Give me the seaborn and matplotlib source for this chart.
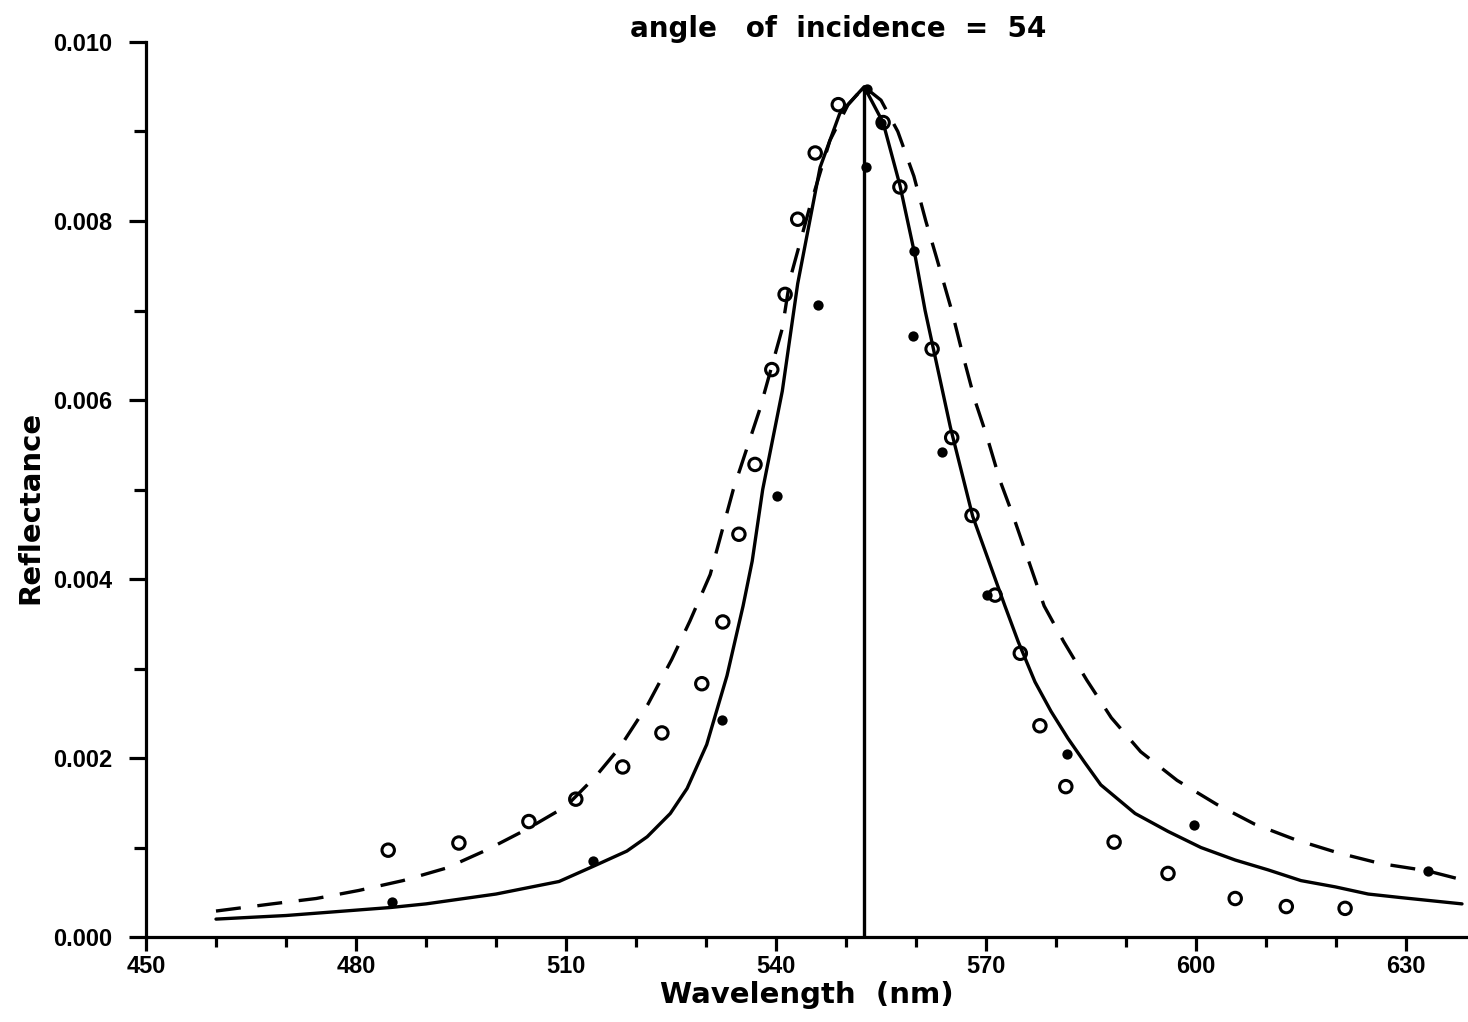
import matplotlib
matplotlib.use("Agg")
import matplotlib.pyplot as plt
import seaborn as sns
from matplotlib.ticker import MultipleLocator, FixedLocator, FixedFormatter

# ---------------- data ----------------
solid_wl = [460, 470, 480, 485, 490, 500, 509, 513.9, 518.7, 521.6, 524.9, 527.3,
            530.1, 533.0, 535.3, 536.6, 538.1, 540.9, 543.1, 546.3, 549.1, 552.6,
            555.3, 557.7, 559.9, 561.3, 564.9, 568.1, 572.7, 574.6, 577.0,
            579.3, 581.7, 584.1, 586.4, 591.3, 596.0, 600.7, 605.6, 610.3, 615.0,
            619.9, 624.6, 629.3, 638.0]
solid_r = [0.00020, 0.00024, 0.00030, 0.00033, 0.00037, 0.00048, 0.00062, 0.00079,
           0.00096, 0.00112, 0.00138, 0.00166, 0.00215, 0.00292, 0.00370, 0.00420,
           0.00500, 0.00610, 0.00730, 0.00860, 0.00920, 0.00950, 0.00910, 0.00840,
           0.00760, 0.00700, 0.00570, 0.00470, 0.00370, 0.00330, 0.00285,
           0.00252, 0.00222, 0.00195, 0.00170, 0.00138, 0.00118, 0.00100, 0.00086,
           0.00075, 0.00063, 0.00056, 0.00048, 0.00044, 0.00037]

dashed_wl = [460, 468, 474.3, 480.4, 486.7, 492.9, 498.6, 504.3, 510, 514.3, 517.7,
             521.7, 525.1, 527.7, 530.6, 533.9, 537.7, 540.9, 542.0, 544.8, 547.7,
             550.3, 552.6, 555.0, 557.4, 559.7, 561.4, 562.9, 565.1, 566.7, 568.4,
             570.1, 572.0, 573.9, 576.1, 578.3, 581.1, 584.4, 587.9, 592.1, 597.3,
             603.0, 608.4, 614.1, 620.3, 626.4, 633.0, 638.0]
dashed_r = [0.00029, 0.00037, 0.00043, 0.00052, 0.00063, 0.00077, 0.00097, 0.00120,
            0.00146, 0.00180, 0.00212, 0.00260, 0.00310, 0.00353, 0.00405, 0.00500,
            0.00590, 0.00680, 0.00735, 0.00815, 0.00890, 0.00930, 0.00950, 0.00935,
            0.00900, 0.00850, 0.00800, 0.00760, 0.00700, 0.00650, 0.00600, 0.00560,
            0.00510, 0.00470, 0.00420, 0.00370, 0.00330, 0.00287, 0.00245, 0.00207,
            0.00175, 0.00148, 0.00126, 0.00109, 0.00094, 0.00082, 0.00074, 0.00064]

open_wl = [484.6, 494.7, 504.7, 511.4, 518.1, 523.7, 529.4, 532.4, 534.7, 537.0,
           539.4, 541.3, 543.1, 545.6, 548.9, 555.3, 557.7, 562.3, 565.1, 568.0,
           571.3, 574.9, 577.7, 581.4, 588.3, 596.0, 605.6, 612.9, 621.3]
open_r = [0.00097, 0.00105, 0.00129, 0.00154, 0.00190, 0.00228, 0.00283, 0.00352,
          0.00450, 0.00528, 0.00634, 0.00718, 0.00802, 0.00876, 0.00930, 0.00910,
          0.00838, 0.00657, 0.00558, 0.00471, 0.00382, 0.00317, 0.00236, 0.00168,
          0.00106, 0.00071, 0.00043, 0.00034, 0.00032]

filled_wl = [485.1, 513.9, 532.3, 540.1, 546.0, 552.9, 553.0, 555.0, 559.7, 559.6,
             563.7, 570.1, 581.6, 599.7, 633.1]
filled_r = [0.00039, 0.00085, 0.00243, 0.00493, 0.00706, 0.00860, 0.00947, 0.00910,
            0.00766, 0.00672, 0.00542, 0.00382, 0.00205, 0.00125, 0.00074]

peak_wl = [552.5, 552.5]
peak_r = [0.0, 0.00947]

x_ticks = [450, 480, 510, 540, 570, 600, 630]
y_ticks = [0.000, 0.002, 0.004, 0.006, 0.008, 0.010]
y_tick_labels = ["0.000", "0.002", "0.004", "0.006", "0.008", "0.010"]

title_text = "angle   of  incidence  =  54"
x_label = "Wavelength  (nm)"
y_label = "Reflectance"

# ---------------- styling ----------------
sns.set_theme(style="ticks")
plt.rcParams["font.family"] = ["DejaVu Sans"]
plt.rcParams["text.color"] = "black"
plt.rcParams["axes.labelcolor"] = "black"
plt.rcParams["xtick.color"] = "black"
plt.rcParams["ytick.color"] = "black"

W, H = 1468, 1022
fig = plt.figure(figsize=(W / 100, H / 100), dpi=100)
left, right, top, bottom = 146, 1468, 42, 937
ax = fig.add_axes([left / W, 1 - bottom / H, (right - left) / W, (bottom - top) / H])

lw = 2.4
sns.lineplot(x=solid_wl, y=solid_r, ax=ax, color="black", linewidth=lw,
             sort=False, estimator=None)
sns.lineplot(x=dashed_wl, y=dashed_r, ax=ax, color="black", linewidth=lw,
             sort=False, estimator=None)
ax.lines[-1].set_dashes((7.5, 5))
sns.lineplot(x=peak_wl, y=peak_r, ax=ax, color="black", linewidth=lw,
             sort=False, estimator=None)

sns.scatterplot(x=open_wl, y=open_r, ax=ax, marker="o", s=80,
                facecolor="none", edgecolor="black", linewidth=2.2, zorder=3)
ax.collections[-1].set_facecolor("none")
sns.scatterplot(x=filled_wl, y=filled_r, ax=ax, marker="o", s=55,
                color="black", linewidth=0, zorder=4)

ax.set_xlim(450, 450 + (right - left) / 7.0)
ax.set_ylim(0, 0.010)

for s in ["top", "right"]:
    ax.spines[s].set_visible(False)
for s in ["left", "bottom"]:
    ax.spines[s].set_linewidth(2.3)
    ax.spines[s].set_color("black")

ax.xaxis.set_major_locator(FixedLocator(x_ticks))
ax.xaxis.set_minor_locator(MultipleLocator(10))
ax.yaxis.set_major_locator(FixedLocator(y_ticks))
ax.yaxis.set_major_formatter(FixedFormatter(y_tick_labels))
ax.yaxis.set_minor_locator(MultipleLocator(0.001))

ax.tick_params(axis="y", which="major", direction="out", length=12, width=2.3, pad=12)
ax.tick_params(axis="y", which="minor", direction="out", length=9, width=2.3)
ax.tick_params(axis="x", which="major", direction="out", length=10, width=2.3, pad=3)
ax.tick_params(axis="x", which="minor", direction="out", length=7, width=2.3)
for lab in ax.get_xticklabels() + ax.get_yticklabels():
    lab.set_fontfamily(["Liberation Sans", "DejaVu Sans"])
    lab.set_fontweight("bold")
    lab.set_fontsize(17)
    lab.set_color("black")

ax.set_xlabel(x_label, fontsize=21, fontweight="bold", va="center", color="black")
ax.xaxis.set_label_coords(0.5, (bottom - 995) / (bottom - top))
ax.set_ylabel(y_label, fontsize=21, fontweight="bold", va="center", color="black")
ax.yaxis.set_label_coords((30 - left) / (right - left), (bottom - 507) / (bottom - top))

ax.set_title(title_text, fontsize=20, fontweight="bold", color="black",
             x=(838 - left) / (right - left), y=(bottom - 29) / (bottom - top),
             va="center", pad=0)

ax.grid(False)
fig.savefig("out.png", dpi=100, facecolor="white")
